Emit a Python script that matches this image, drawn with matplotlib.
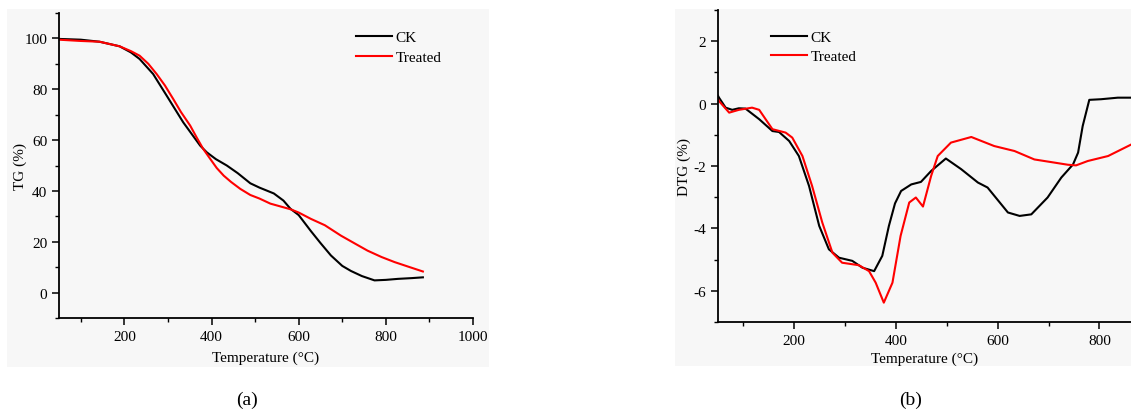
import matplotlib
matplotlib.use("Agg")
import matplotlib.pyplot as plt
from matplotlib.patches import Rectangle
from matplotlib.ticker import MultipleLocator

plt.rcParams['font.family'] = ['Liberation Serif', 'DejaVu Serif']
plt.rcParams['axes.unicode_minus'] = False

# TG data (%)
tg_temp_ck = [50, 100, 143, 189, 215, 235, 266, 297, 335, 374, 389, 410, 435, 460,
              489, 510, 543, 565, 581, 600, 628, 650, 674, 700, 720, 745, 774, 800,
              828, 860, 885]
tg_ck = [99.8, 99.5, 98.7, 96.9, 94.5, 91.9, 86, 77.5, 67, 57.8, 55.2, 52.5, 50, 47,
         43, 41.3, 39, 36.2, 33, 30.5, 24.2, 19.5, 14.6, 10.5, 8.5, 6.5, 4.8, 5,
         5.4, 5.7, 6]
tg_temp_tr = [50, 100, 143, 189, 215, 235, 255, 274, 293, 312, 330, 351, 366, 381,
              397, 412, 428, 445, 466, 489, 510, 535, 560, 581, 600, 628, 660, 697,
              730, 758, 790, 820, 855, 885]
tg_tr = [99.5, 99, 98.7, 96.9, 95, 93.2, 90, 86, 81.5, 76.2, 71, 65.7, 61, 56.5,
         52.6, 49, 46, 43.5, 40.8, 38.4, 37, 35, 33.8, 32.8, 31.5, 29, 26.5, 22.4,
         19.2, 16.5, 14, 12, 10, 8.3]

# DTG data (%)
dtg_temp_ck = [50, 52, 65, 78, 91, 104, 131, 157, 170, 190, 209, 229, 249, 268, 288,
               314, 334, 357, 373, 386, 398, 410, 430, 449, 469, 498, 528, 561, 580,
               620, 643, 666, 698, 725, 748, 758, 767, 780, 803, 836, 870]
dtg_ck = [0.25, 0.19, -0.13, -0.2, -0.15, -0.16, -0.5, -0.88, -0.91, -1.2, -1.68,
          -2.64, -3.92, -4.67, -4.94, -5.04, -5.26, -5.37, -4.88, -3.92, -3.2, -2.8,
          -2.59, -2.51, -2.16, -1.76, -2.1, -2.53, -2.69, -3.49, -3.6, -3.55, -3.01,
          -2.37, -1.95, -1.57, -0.72, 0.12, 0.14, 0.19, 0.19]
dtg_temp_tr = [50, 52, 72, 91, 117, 131, 157, 183, 196, 216, 235, 255, 275, 294, 327,
               347, 360, 376, 393, 409, 426, 439, 453, 469, 482, 508, 548, 593, 633,
               672, 711, 738, 754, 777, 817, 870]
dtg_tr = [0.15, 0.08, -0.29, -0.2, -0.13, -0.2, -0.82, -0.93, -1.09, -1.68, -2.64,
          -3.81, -4.78, -5.1, -5.18, -5.37, -5.74, -6.38, -5.74, -4.24, -3.17, -3.01,
          -3.3, -2.32, -1.68, -1.25, -1.07, -1.36, -1.52, -1.79, -1.89, -1.96, -1.98,
          -1.84, -1.68, -1.25]

fig = plt.figure(figsize=(11.31, 4.1), dpi=100)

# light grey panel backgrounds (behind the axes)
fig.patches.append(Rectangle((7 / 1131, 1 - 368 / 410), 482 / 1131, 358 / 410,
                             transform=fig.transFigure, facecolor='#f7f7f7',
                             edgecolor='none', zorder=-10))
fig.patches.append(Rectangle((675 / 1131, 1 - 367 / 410), 456 / 1131, 357 / 410,
                             transform=fig.transFigure, facecolor='#f7f7f7',
                             edgecolor='none', zorder=-10))

ax1 = fig.add_axes([59 / 1131, 1 - 319 / 410, 414 / 1131, 305 / 410])
ax2 = fig.add_axes([718 / 1131, 1 - 323 / 410, 413 / 1131, 312 / 410])

for ax in (ax1, ax2):
    ax.set_facecolor('none')
    ax.spines['top'].set_visible(False)
    ax.spines['right'].set_visible(False)
    ax.spines['left'].set_linewidth(1.3)
    ax.spines['bottom'].set_linewidth(1.3)
    ax.tick_params(which='major', direction='out', length=5, width=1.1, labelsize=11)
    ax.tick_params(which='minor', direction='out', length=3, width=1.0)
    ax.xaxis.set_major_locator(MultipleLocator(200))
    ax.xaxis.set_minor_locator(MultipleLocator(100))

# (a) TG
ax1.plot(tg_temp_ck, tg_ck, color='black', lw=1.5, label='CK')
ax1.plot(tg_temp_tr, tg_tr, color='#ff0000', lw=1.5, label='Treated')
ax1.set_xlim(50, 1000)
ax1.set_ylim(-10, 110)
ax1.yaxis.set_major_locator(MultipleLocator(20))
ax1.yaxis.set_minor_locator(MultipleLocator(10))
ax1.set_xlabel('Temperature (°C)', fontsize=11, labelpad=5.5)
ax1.set_ylabel('TG (%)', fontsize=11, labelpad=-2)
ax1.legend(loc='upper left', bbox_to_anchor=(0.684, 0.987), frameon=False, fontsize=11,
           handlelength=2.35, handletextpad=0.26, labelspacing=0.38)

# (b) DTG
ax2.plot(dtg_temp_ck, dtg_ck, color='black', lw=1.5, label='CK')
ax2.plot(dtg_temp_tr, dtg_tr, color='#ff0000', lw=1.5, label='Treated')
ax2.set_xlim(50, 862)
ax2.set_ylim(-7, 3)
ax2.yaxis.set_major_locator(MultipleLocator(2))
ax2.yaxis.set_minor_locator(MultipleLocator(1))
ax2.set_xlabel('Temperature (°C)', fontsize=11, labelpad=3.5)
ax2.set_ylabel('DTG (%)', fontsize=11, labelpad=2)
ax2.legend(loc='upper left', bbox_to_anchor=(0.095, 0.979), frameon=False, fontsize=11,
           handlelength=2.35, handletextpad=0.26, labelspacing=0.38)

fig.text(247 / 1131, 1 - 400 / 410, '(a)', ha='center', va='center', fontsize=14)
fig.text(911 / 1131, 1 - 400 / 410, '(b)', ha='center', va='center', fontsize=14)

fig.savefig('out.png', dpi=100)
